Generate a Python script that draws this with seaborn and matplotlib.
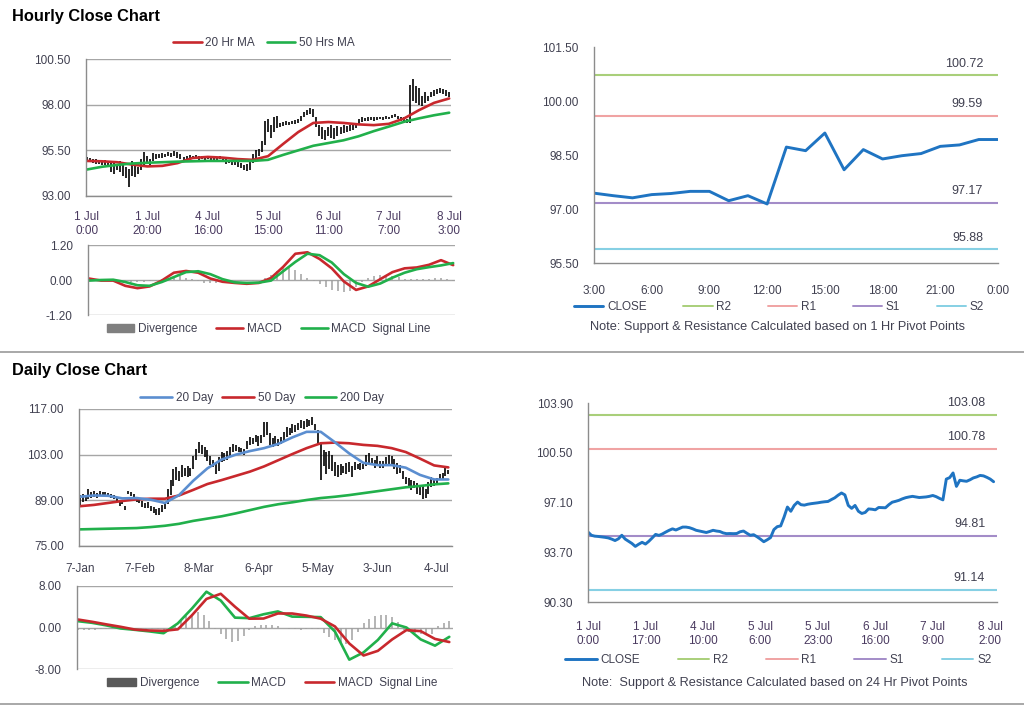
import numpy as np
import matplotlib
matplotlib.use('Agg')
import matplotlib.pyplot as plt
import seaborn as sns
from matplotlib.lines import Line2D
from matplotlib.patches import Patch

# ---------------- DATA ----------------
# Hourly OHLC (1 Jul 0:00 .. 8 Jul 3:00), one bar per hour
hourly_tick_labels = ['1 Jul\n0:00', '1 Jul\n20:00', '4 Jul\n16:00', '5 Jul\n15:00',
                      '6 Jul\n11:00', '7 Jul\n7:00', '8 Jul\n3:00']
hourly_hi = [95.15, 95.1, 95.0, 95.0, 94.95, 94.9, 94.95, 94.9, 94.85, 94.8,
             94.75, 94.9, 94.8, 94.6, 94.5, 94.9, 94.7, 94.6, 95.0, 95.4,
             95.2, 95.0, 95.35, 95.3, 95.3, 95.35, 95.3, 95.4, 95.35, 95.45,
             95.4, 95.3, 95.15, 95.2, 95.25, 95.2, 95.25, 95.2, 95.2, 95.15,
             95.2, 95.1, 95.15, 95.1, 95.2, 95.05, 95.0, 94.95, 94.9, 94.95,
             94.85, 94.8, 94.7, 94.75, 94.9, 95.3, 95.5, 95.6, 96.0, 97.1,
             97.2, 96.9, 97.3, 97.4, 97.0, 97.05, 97.1, 97.05, 97.1, 97.15,
             97.2, 97.4, 97.6, 97.7, 97.8, 97.75, 97.3, 96.9, 96.8, 96.6,
             96.8, 96.9, 96.7, 96.85, 96.8, 96.9, 96.85, 96.9, 96.95, 97.0,
             97.2, 97.3, 97.25, 97.3, 97.35, 97.3, 97.3, 97.35, 97.3, 97.4,
             97.35, 97.45, 97.5, 97.4, 97.35, 97.3, 97.2, 99.1, 99.4, 99.0,
             98.9, 98.5, 98.7, 98.5, 98.7, 98.8, 98.85, 98.9, 98.85, 98.8, 98.7]
hourly_lo = [94.85, 94.9, 94.8, 94.75, 94.75, 94.7, 94.7, 94.65, 94.3, 94.2,
             94.4, 94.3, 94.1, 94.0, 93.5, 94.1, 94.05, 94.2, 94.4, 94.7,
             94.8, 94.7, 94.9, 95.05, 95.1, 95.1, 95.15, 95.2, 95.15, 95.2,
             95.1, 95.0, 94.9, 95.0, 95.05, 95.0, 95.05, 94.95, 95.0, 94.95,
             95.0, 94.95, 94.95, 94.9, 95.0, 94.85, 94.75, 94.8, 94.7, 94.7,
             94.6, 94.55, 94.45, 94.35, 94.4, 94.8, 95.0, 95.2, 95.4, 95.8,
             96.5, 96.2, 96.5, 96.7, 96.8, 96.85, 96.9, 96.9, 96.95, 96.95,
             97.0, 97.1, 97.3, 97.45, 97.5, 97.3, 96.8, 96.3, 96.1, 96.05,
             96.3, 96.2, 96.1, 96.3, 96.4, 96.45, 96.5, 96.55, 96.6, 96.7,
             96.9, 97.05, 97.1, 97.1, 97.15, 97.1, 97.15, 97.2, 97.15, 97.2,
             97.2, 97.25, 97.3, 97.2, 97.1, 97.05, 97.0, 97.0, 98.2, 98.1,
             98.0, 97.9, 98.1, 98.2, 98.4, 98.5, 98.6, 98.65, 98.6, 98.5, 98.4]
hourly_ma_x = list(range(0, 121, 5))
ma20_hourly = [94.92, 94.9, 94.85, 94.72, 94.62, 94.65, 94.8, 95.08, 95.14, 95.1,
               95.02, 94.98, 95.18, 95.85, 96.5, 97.0, 97.05, 97.0, 96.92, 96.88,
               96.95, 97.24, 97.7, 98.1, 98.34]
ma50_hourly = [94.45, 94.6, 94.7, 94.78, 94.82, 94.85, 94.88, 94.9, 94.92, 94.92,
               94.92, 94.92, 94.98, 95.25, 95.5, 95.75, 95.9, 96.05, 96.27, 96.55,
               96.8, 97.06, 97.25, 97.42, 97.56]
hourly_macd_x = list(range(0, 121, 4))
macd_hourly = [0.05, -0.02, -0.02, -0.2, -0.28, -0.22, -0.02, 0.25, 0.31, 0.25,
               0.05, -0.06, -0.1, -0.13, -0.1, 0.07, 0.45, 0.9, 0.95, 0.72,
               0.4, -0.05, -0.34, -0.22, 0.03, 0.27, 0.4, 0.43, 0.52, 0.68, 0.51]
signal_hourly = [-0.02, 0.0, 0.01, -0.07, -0.18, -0.2, -0.07, 0.1, 0.27, 0.3,
                 0.2, 0.03, -0.08, -0.1, -0.09, -0.02, 0.3, 0.62, 0.9, 0.85,
                 0.6, 0.2, -0.1, -0.23, -0.12, 0.08, 0.25, 0.37, 0.44, 0.5, 0.58]
hourly_div_x = list(range(0, 121, 2))
divergence_hourly = [0.03, 0.02, -0.01, -0.02, -0.01, -0.03, -0.05, -0.06, -0.07, -0.06,
                     -0.04, -0.02, 0.02, 0.08, 0.12, 0.13, 0.08, 0.03, -0.04, -0.09,
                     -0.11, -0.1, -0.07, -0.05, -0.04, -0.03, -0.03, -0.02, 0.0, 0.08,
                     0.18, 0.3, 0.4, 0.42, 0.35, 0.22, 0.08, -0.05, -0.15, -0.25,
                     -0.33, -0.38, -0.4, -0.38, -0.25, -0.08, 0.08, 0.15, 0.17, 0.17,
                     0.15, 0.1, 0.05, 0.03, 0.03, 0.04, 0.05, 0.06, 0.08, 0.05, -0.03]

# 1-hour pivot chart
pivot1_tick_labels = ['3:00', '6:00', '9:00', '12:00', '15:00', '18:00', '21:00', '0:00']
close_1h = [97.44, 97.37, 97.31, 97.4, 97.43, 97.49, 97.49, 97.23, 97.37, 97.14,
            98.72, 98.62, 99.11, 98.09, 98.65, 98.39, 98.48, 98.54, 98.74, 98.78,
            98.93, 98.93]
level_names = ['R2', 'R1', 'S1', 'S2']
levels_1h = [100.72, 99.59, 97.17, 95.88]

# Daily OHLC
daily_tick_labels = ['7-Jan', '7-Feb', '8-Mar', '6-Apr', '5-May', '3-Jun', '4-Jul']
daily_hi = [90.5, 91.0, 90.2, 92.6, 91.5, 91.8, 91.2, 92.0, 91.5, 91.6,
            91.3, 90.8, 90.5, 89.6, 88.6, 89.0, 87.2, 92.0, 91.5, 90.8,
            90.0, 89.6, 88.8, 88.2, 88.6, 87.4, 87.0, 86.2, 86.8, 87.5,
            88.5, 92.5, 95.2, 98.5, 99.3, 98.0, 99.8, 99.0, 99.6, 98.8,
            102.5, 104.8, 107.0, 106.0, 105.5, 104.5, 102.6, 101.5, 100.8, 102.3,
            103.9, 103.5, 104.0, 105.2, 106.4, 106.0, 105.5, 105.0, 104.8, 107.2,
            108.5, 108.2, 109.0, 108.6, 109.0, 113.0, 113.1, 109.5, 108.0, 108.8,
            107.8, 108.4, 110.0, 111.6, 111.2, 112.5, 112.0, 112.8, 113.6, 113.4,
            113.8, 113.5, 114.6, 112.5, 110.5, 107.0, 104.4, 103.8, 104.0, 103.0,
            100.8, 99.8, 100.2, 99.5, 100.5, 100.8, 99.6, 100.8, 100.2, 100.5,
            100.0, 103.0, 103.4, 102.0, 101.5, 102.5, 101.2, 101.0, 102.2, 103.0,
            102.5, 101.8, 100.5, 99.8, 98.0, 96.2, 95.8, 95.2, 95.0, 94.2,
            93.8, 93.5, 92.5, 94.5, 96.2, 95.5, 95.8, 97.0, 97.5, 98.8, 98.2]
daily_lo = [87.5, 88.5, 88.8, 89.5, 89.8, 90.0, 89.6, 90.2, 90.6, 90.4,
            90.0, 89.8, 89.5, 88.8, 87.4, 87.9, 86.0, 91.0, 90.2, 89.5,
            88.6, 88.2, 87.0, 86.6, 86.8, 85.8, 85.0, 84.4, 84.4, 85.3,
            86.2, 87.8, 90.5, 93.5, 95.2, 95.0, 96.2, 96.5, 96.3, 96.4,
            98.5, 101.3, 103.5, 103.2, 102.4, 101.0, 99.8, 99.3, 97.2, 98.0,
            100.8, 101.2, 101.5, 102.6, 103.9, 104.2, 103.8, 103.9, 103.0, 104.8,
            106.0, 106.2, 106.8, 105.8, 106.5, 108.5, 109.0, 106.0, 105.4, 106.0,
            105.6, 106.4, 106.8, 108.5, 109.0, 109.5, 110.0, 110.5, 111.2, 111.0,
            111.5, 111.8, 112.0, 110.5, 106.4, 95.2, 99.5, 97.2, 98.5, 98.0,
            96.5, 96.2, 96.8, 97.4, 97.0, 97.8, 96.2, 98.3, 98.6, 98.3,
            98.5, 99.5, 100.2, 99.8, 99.0, 99.5, 98.8, 99.0, 99.8, 100.2,
            99.5, 98.5, 97.2, 97.5, 95.5, 94.0, 93.2, 92.1, 92.8, 91.0,
            90.5, 89.5, 89.8, 91.0, 93.1, 93.5, 94.0, 95.2, 95.6, 96.5, 97.0]
daily_ma_x = list(range(0, 131, 5))
ma20_daily = [90.1, 90.5, 90.4, 89.6, 89.7, 89.2, 88.2, 90.6, 95.0, 98.8,
              101.5, 103.0, 104.1, 105.0, 106.3, 108.3, 110.0, 110.0, 106.8, 103.4,
              100.5, 99.8, 99.8, 99.0, 96.8, 95.4, 95.4]
ma50_daily = [87.2, 87.6, 88.2, 88.8, 89.3, 89.5, 89.5, 90.5, 92.2, 94.0,
              95.2, 96.5, 97.8, 99.4, 101.3, 103.2, 105.0, 106.5, 106.7, 106.5,
              106.0, 105.7, 105.0, 103.8, 101.8, 99.7, 99.1]
ma200_daily = [80.1, 80.2, 80.3, 80.4, 80.5, 80.8, 81.2, 81.8, 82.7, 83.4,
               84.1, 85.0, 86.0, 87.0, 87.8, 88.4, 89.1, 89.7, 90.1, 90.6,
               91.2, 91.8, 92.4, 93.0, 93.4, 93.9, 94.2]
macd_daily = [1.22, 0.9, 0.4, -0.19, -0.45, -0.75, -1.1, 0.8, 3.7, 6.9,
              5.2, 1.9, 1.8, 2.55, 3.1, 2.1, 2.06, 2.0, -0.8, -6.2,
              -4.8, -2.4, 0.8, 0.0, -2.3, -3.5, -1.8]
signal_daily = [1.54, 1.1, 0.6, 0.13, -0.4, -0.58, -0.64, -0.35, 2.4, 5.5,
                6.5, 4.0, 1.7, 1.73, 2.7, 2.7, 2.3, 1.7, 0.2, -3.08,
                -5.4, -4.5, -2.3, -0.5, -0.7, -2.2, -2.8]
daily_div_x = list(range(0, 131, 2))
divergence_daily = [-0.4, -0.5, -0.45, -0.4, -0.35, -0.3, -0.25, -0.2, -0.15, -0.2,
                    -0.25, -0.3, -0.3, -0.25, -0.3, -0.5, -0.3, 0.4, 1.3, 2.2,
                    2.6, 2.9, 2.5, 1.2, -0.3, -1.3, -2.2, -2.8, -2.6, -1.6,
                    -0.4, 0.3, 0.5, 0.5, 0.4, 0.3, -0.1, -0.2, -0.3, -0.4,
                    -0.3, -0.2, -0.3, -1.0, -1.8, -2.4, -2.8, -3.1, -2.4, -0.8,
                    0.8, 1.7, 2.2, 2.4, 2.4, 2.1, 1.0, -0.4, -0.8, -1.0,
                    -1.3, -1.5, -1.2, 0.3, 0.8, 1.2]

# 24-hour pivot chart (hourly closes)
pivot24_tick_labels = ['1 Jul\n0:00', '1 Jul\n17:00', '4 Jul\n10:00', '5 Jul\n6:00',
                       '5 Jul\n23:00', '6 Jul\n16:00', '7 Jul\n9:00', '8 Jul\n2:00']
close_24h = [95.08, 94.86, 94.8, 94.78, 94.75, 94.72, 94.68, 94.6, 94.5, 94.62,
             94.86, 94.6, 94.45, 94.3, 94.1, 94.25, 94.38, 94.26, 94.45, 94.68,
             94.92, 94.85, 94.95, 95.08, 95.2, 95.3, 95.22, 95.32, 95.42, 95.42,
             95.38, 95.3, 95.2, 95.15, 95.1, 95.05, 95.12, 95.2, 95.15, 95.12,
             95.02, 94.97, 94.98, 94.97, 94.98, 95.1, 95.15, 95.0, 94.86, 94.9,
             94.76, 94.6, 94.42, 94.55, 94.7, 95.25, 95.45, 95.5, 96.1, 96.79,
             96.5, 96.9, 97.13, 96.95, 96.92, 96.98, 97.02, 97.05, 97.08, 97.12,
             97.15, 97.17, 97.3, 97.42, 97.6, 97.75, 97.62, 96.9, 96.7, 96.9,
             96.5, 96.35, 96.42, 96.66, 96.64, 96.6, 96.76, 96.75, 96.74, 96.95,
             97.12, 97.18, 97.25, 97.35, 97.43, 97.48, 97.52, 97.48, 97.44, 97.46,
             97.48, 97.52, 97.58, 97.5, 97.38, 97.28, 98.7, 98.8, 99.12, 98.2,
             98.62, 98.58, 98.55, 98.65, 98.78, 98.85, 98.95, 98.92, 98.82, 98.7,
             98.52]
levels_24h = [103.08, 100.78, 94.81, 91.14]

# ---------------- STYLE ----------------
sns.set_theme(style='white')
plt.rcParams['font.family'] = ['Liberation Sans', 'DejaVu Sans']
plt.rcParams['font.size'] = 8.5

W, H = 1024, 706
fig = plt.figure(figsize=(W / 100, H / 100), dpi=100)

TXT = '#404050'
GRID = '#A6A6A6'
SPINE = '#8C8C8C'
RED = '#C8282D'
GREEN = '#21B04B'
BLUE20 = '#5B8ED0'
CLOSE = '#1F74C2'
LEVEL_COLORS = ['#A9CF7A', '#F0A3A3', '#A38CC8', '#86D0E4']
DIV = '#A0A0A0'
FS = 8.5
NOTE_FS = 9.2


def add_ax(x0, y0, x1, y1):
    return fig.add_axes([x0 / W, 1 - y1 / H, (x1 - x0) / W, (y1 - y0) / H])


def style_ax(ax, grid=True):
    for s in ['top', 'right']:
        ax.spines[s].set_visible(False)
    for s in ['left', 'bottom']:
        ax.spines[s].set_color(SPINE)
        ax.spines[s].set_linewidth(1)
    ax.tick_params(axis='both', colors=SPINE, labelcolor=TXT, labelsize=FS,
                   direction='out', length=4, width=1)
    ax.tick_params(axis='y', pad=7)
    ax.set_facecolor('none')
    if grid:
        ax.yaxis.grid(True, color=GRID, lw=1)
        ax.set_axisbelow(True)
    ax.set_xlabel('')
    ax.set_ylabel('')


def fmt2(ax):
    ax.set_yticklabels([f'{v:.2f}' for v in ax.get_yticks()])


def fig_legend(ax, handles, labels, cx, cy, **kw):
    opts = dict(loc='center', bbox_to_anchor=(cx / W, 1 - cy / H),
                bbox_transform=fig.transFigure, ncol=len(handles), frameon=False,
                fontsize=FS, handlelength=3.0, handletextpad=0.3, columnspacing=2.0,
                labelcolor=TXT)
    opts.update(kw)
    return ax.legend(handles, labels, **opts)


# Section titles and separators
fig.text(12 / W, 1 - 16 / H, 'Hourly Close Chart', fontsize=11.8, fontweight='bold',
         va='center', ha='left', color='black')
fig.text(12 / W, 1 - 370 / H, 'Daily Close Chart', fontsize=11.8, fontweight='bold',
         va='center', ha='left', color='black')
for yy in [352, 704]:
    fig.add_artist(Line2D([0, 1], [1 - yy / H, 1 - yy / H], color='#9A9A9A', lw=1.2,
                          transform=fig.transFigure))

# ---------- Top-left: hourly price ----------
ax1 = add_ax(86, 59, 451, 196)
hx = np.arange(len(hourly_hi))
ax1.vlines(hx, hourly_lo, hourly_hi, color='black', lw=1.2)
sns.lineplot(x=hourly_ma_x, y=ma20_hourly, ax=ax1, color=RED, lw=1.9)
sns.lineplot(x=hourly_ma_x, y=ma50_hourly, ax=ax1, color=GREEN, lw=1.9)
ax1.set_xlim(-0.3, 120.6)
ax1.set_ylim(93, 100.5)
ax1.set_yticks([93, 95.5, 98, 100.5])
style_ax(ax1)
fmt2(ax1)
ax1.set_xticks(range(0, 121, 20))
ax1.set_xticklabels(hourly_tick_labels)
ax1.tick_params(axis='x', pad=8, length=3, labelcolor='#4A3A60')
fig_legend(ax1, [Line2D([], [], color=RED, lw=1.9), Line2D([], [], color=GREEN, lw=1.9)],
           ['20 Hr MA', '50 Hrs MA'], 264, 43, handlelength=2.4, columnspacing=1.0)

# ---------- Top-left: hourly MACD ----------
ax2 = add_ax(88, 245, 455, 315)
ax2.vlines(hourly_div_x, 0, divergence_hourly, color=DIV, lw=1.1)
sns.lineplot(x=hourly_macd_x, y=macd_hourly, ax=ax2, color=RED, lw=1.9)
sns.lineplot(x=hourly_macd_x, y=signal_hourly, ax=ax2, color=GREEN, lw=1.9)
ax2.set_xlim(-0.3, 120.6)
ax2.set_ylim(-1.2, 1.2)
ax2.set_yticks([-1.2, 0, 1.2])
style_ax(ax2)
fmt2(ax2)
ax2.spines['bottom'].set_visible(False)
ax2.set_xticks([])
fig_legend(ax2, [Patch(color='#7F7F7F'), Line2D([], [], color=RED, lw=1.9),
                 Line2D([], [], color=GREEN, lw=1.9)],
           ['Divergence', 'MACD', 'MACD  Signal Line'], 269, 329,
           handlelength=2.3, columnspacing=1.6)

# ---------- Top-right: 1 Hr pivot ----------
ax3 = add_ax(594, 47, 998, 263)
for name, val, col in zip(level_names, levels_1h, LEVEL_COLORS):
    ax3.axhline(val, color=col, lw=1.5)
    ax3.annotate(f'{val:.2f}', xy=(0.963, val), xycoords=('axes fraction', 'data'),
                 xytext=(0, 4), textcoords='offset points', ha='right', va='bottom',
                 fontsize=9, color=TXT)
sns.lineplot(x=np.arange(len(close_1h)), y=close_1h, ax=ax3, color=CLOSE, lw=2.1)
ax3.set_xlim(0, 21)
ax3.set_ylim(95.5, 101.5)
ax3.set_yticks([95.5, 97, 98.5, 100, 101.5])
style_ax(ax3, grid=False)
fmt2(ax3)
ax3.set_xticks(range(0, 22, 3))
ax3.set_xticklabels(pivot1_tick_labels)
ax3.tick_params(axis='x', pad=11, length=5)
ax3.tick_params(axis='y', length=4)
leg_handles = [Line2D([], [], color=CLOSE, lw=2.1)] + \
    [Line2D([], [], color=c, lw=1.4) for c in LEVEL_COLORS]
fig_legend(ax3, leg_handles, ['CLOSE'] + level_names, 779, 307,
           handlelength=2.5, columnspacing=3.1)
fig.text(777 / W, 1 - 327 / H,
         'Note: Support & Resistance Calculated based on 1 Hr Pivot Points',
         ha='center', va='center', fontsize=NOTE_FS, color=TXT)

# ---------- Bottom-left: daily price ----------
ax4 = add_ax(79, 409, 452, 546)
dx = np.arange(len(daily_hi))
ax4.vlines(dx, daily_lo, daily_hi, color='black', lw=1.2)
sns.lineplot(x=daily_ma_x, y=ma200_daily, ax=ax4, color=GREEN, lw=1.9)
sns.lineplot(x=daily_ma_x, y=ma50_daily, ax=ax4, color=RED, lw=1.9)
sns.lineplot(x=daily_ma_x, y=ma20_daily, ax=ax4, color=BLUE20, lw=1.9)
ax4.set_xlim(-0.3, 131.3)
ax4.set_ylim(75, 117)
ax4.set_yticks([75, 89, 103, 117])
style_ax(ax4)
fmt2(ax4)
ax4.set_xticks(range(0, 127, 21))
ax4.set_xticklabels(daily_tick_labels)
ax4.tick_params(axis='x', pad=9, length=3)
fig_legend(ax4, [Line2D([], [], color=BLUE20, lw=1.9), Line2D([], [], color=RED, lw=1.9),
                 Line2D([], [], color=GREEN, lw=1.9)],
           ['20 Day', '50 Day', '200 Day'], 262, 398, handlelength=2.7, columnspacing=0.8)

# ---------- Bottom-left: daily MACD ----------
ax5 = add_ax(77, 586, 453, 669)
ax5.vlines(daily_div_x, 0, divergence_daily, color=DIV, lw=1.1)
sns.lineplot(x=daily_ma_x, y=macd_daily, ax=ax5, color=GREEN, lw=1.9)
sns.lineplot(x=daily_ma_x, y=signal_daily, ax=ax5, color=RED, lw=1.9)
ax5.set_xlim(-0.3, 131.3)
ax5.set_ylim(-8, 8)
ax5.set_yticks([-8, 0, 8])
style_ax(ax5)
fmt2(ax5)
ax5.spines['bottom'].set_visible(False)
ax5.set_xticks([])
fig_legend(ax5, [Patch(color='#595959'), Line2D([], [], color=GREEN, lw=1.9),
                 Line2D([], [], color=RED, lw=1.9)],
           ['Divergence', 'MACD', 'MACD  Signal Line'], 272, 683,
           handlelength=2.5, columnspacing=1.6)

# ---------- Bottom-right: 24 Hr pivot ----------
ax6 = add_ax(588, 403, 997, 602)
for name, val, col in zip(level_names, levels_24h, LEVEL_COLORS):
    ax6.axhline(val, color=col, lw=1.5)
    ax6.annotate(f'{val:.2f}', xy=(0.971, val), xycoords=('axes fraction', 'data'),
                 xytext=(0, 4), textcoords='offset points', ha='right', va='bottom',
                 fontsize=9, color=TXT)
sns.lineplot(x=np.arange(len(close_24h)), y=close_24h, ax=ax6, color=CLOSE, lw=2.1)
ax6.set_xlim(0, 121)
ax6.set_ylim(90.3, 103.9)
ax6.set_yticks([90.3, 93.7, 97.1, 100.5, 103.9])
style_ax(ax6, grid=False)
fmt2(ax6)
ax6.set_xticks(range(0, 120, 17))
ax6.set_xticklabels(pivot24_tick_labels)
ax6.tick_params(axis='x', pad=9, length=5, labelcolor='#4A3A60')
leg_handles = [Line2D([], [], color=CLOSE, lw=2.1)] + \
    [Line2D([], [], color=c, lw=1.4) for c in LEVEL_COLORS]
fig_legend(ax6, leg_handles, ['CLOSE'] + level_names, 778, 660,
           handlelength=2.7, columnspacing=3.2)
fig.text(775 / W, 1 - 683 / H,
         'Note:  Support & Resistance Calculated based on 24 Hr Pivot Points',
         ha='center', va='center', fontsize=NOTE_FS, color=TXT)

fig.savefig('out.png', dpi=100, facecolor='white')
